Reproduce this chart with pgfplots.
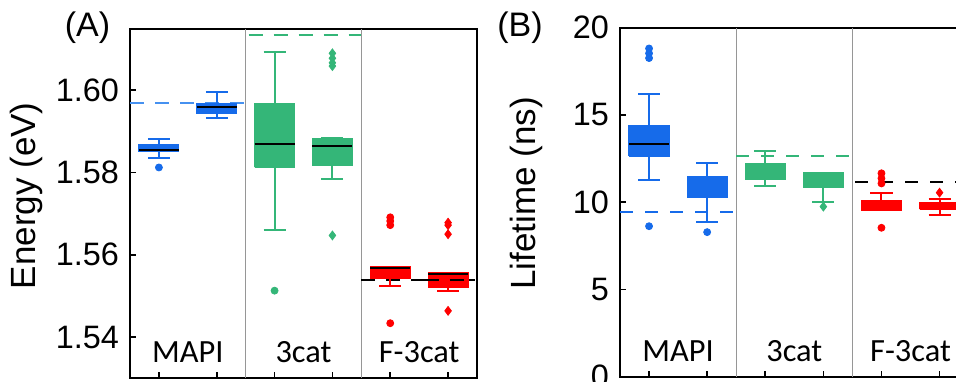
\documentclass[border=0pt]{standalone}
\usepackage{pgfplots}
\pgfplotsset{compat=1.18}
\usepackage{fontspec}
\setmainfont{Liberation Sans}
\newfontfamily\calfont{Carlito}
\definecolor{bblue}{RGB}{22,107,234}
\definecolor{lblue}{RGB}{70,145,240}
\definecolor{bgreen}{RGB}{52,182,120}
\definecolor{bred}{RGB}{255,0,0}
\definecolor{sepgray}{RGB}{150,150,150}
\tikzset{catlabel/.style={font=\calfont\fontsize{16.2}{18}\selectfont, anchor=base}}
% box: #1 pos, #2 lower whisker, #3 lower quartile, #4 median, #5 upper quartile, #6 upper whisker, #7 colour, #8 median colour
\newcommand\bx[8]{%
  \addplot[#7, line width=1pt, unbounded coords=jump, forget plot]
    table[row sep=\\, x expr=\thisrowno{0}+#1, y index=1]
    {x y\\ -0.19 #6\\ 0.19 #6\\ 0 nan\\ 0 #6\\ 0 #2\\ 0 nan\\ -0.19 #2\\ 0.19 #2\\};
  \addplot[fill=#7, draw=#7, line width=0.6pt, forget plot]
    table[row sep=\\, x expr=\thisrowno{0}+#1, y index=1]
    {x y\\ -0.345 #3\\ 0.345 #3\\ 0.345 #5\\ -0.345 #5\\ -0.345 #3\\};
  \addplot[#8, line width=1pt, forget plot]
    table[row sep=\\, x expr=\thisrowno{0}+#1, y index=1]
    {x y\\ -0.345 #4\\ 0.345 #4\\};
}
\pgfplotsset{
  outl/.style={only marks, mark=*, mark size=1.75pt, color=#1, mark options={fill=#1, draw=#1, solid}},
  outd/.style={only marks, mark=diamond*, mark size=2.2pt, color=#1, mark options={fill=#1, draw=#1, solid}},
  myaxis/.style={
    scale only axis, anchor=south west,
    xmin=-0.5, xmax=5.5, xtick={0,...,5}, xticklabels={},
    tick pos=left, tick align=inside, major tick length=3pt,
    tick style={black, line width=0.8pt},
    axis line style={line width=1pt, black},
    /pgf/number format/assume math mode=true,
    ticklabel style={font=\fontsize{16.2}{18}\selectfont},
    yticklabel style={xshift=-2pt},
    clip=false,
  },
}
\begin{document}
\begin{tikzpicture}
% ---------------- Panel A ----------------
\begin{axis}[myaxis, at={(65pt,1.5pt)}, width=173.5pt, height=174.5pt,
  ymin=1.5301, ymax=1.6148, ytick={1.54,1.56,1.58,1.60},
  yticklabel style={/pgf/number format/.cd, fixed, fixed zerofill, precision=2},
  ylabel={Energy (eV)},
  ylabel style={font=\fontsize{17.5}{20}\selectfont, at={(axis description cs:-0.2507,0.522)}, anchor=south, inner sep=0pt},
]
\addplot[sepgray, line width=0.5pt] coordinates {(1.5,1.5301) (1.5,1.6148)};
\addplot[sepgray, line width=0.5pt] coordinates {(3.5,1.5301) (3.5,1.6148)};
\addplot[lblue, line width=0.7pt, dash pattern=on 7pt off 5.5pt] coordinates {(-0.5,1.5968) (1.5,1.5968)};
\addplot[bgreen, line width=1pt, dash pattern=on 7pt off 5.5pt] coordinates {(1.55,1.6133) (3.5,1.6133)};
% MAPI
\bx{0}{1.5834}{1.5850}{1.5855}{1.5867}{1.5880}{bblue}{black}
\addplot[outl=bblue] coordinates {(0,1.5812)};
\bx{1}{1.5931}{1.5942}{1.5959}{1.5966}{1.5994}{bblue}{black}
% 3cat
\bx{2}{1.5660}{1.5812}{1.5868}{1.5966}{1.6091}{bgreen}{black}
\addplot[outl=bgreen] coordinates {(2,1.5513)};
\bx{3}{1.5783}{1.5818}{1.5863}{1.5883}{1.5883}{bgreen}{black}
\addplot[outd=bgreen] coordinates {(3,1.6089) (3,1.6077) (3,1.6066) (3,1.6058) (3,1.5647)};
% F-3cat
\addplot[black, line width=1pt, dash pattern=on 7pt off 5.5pt] coordinates {(3.5,1.5539) (5.5,1.5539)};
\bx{4}{1.5525}{1.5543}{1.5567}{1.5571}{1.5571}{bred}{black}
\addplot[outl=bred] coordinates {(4,1.5691) (4,1.5682) (4,1.5672) (4,1.5434)};
\bx{5}{1.5513}{1.5521}{1.5554}{1.5557}{1.5557}{bred}{black}
\addplot[outd=bred] coordinates {(5,1.5678) (5,1.5672) (5,1.5650) (5,1.5464)};
\addplot[black, line width=1pt, dash pattern=on 7pt off 5.5pt, dash phase=0pt] coordinates {(4.6,1.5539) (5.45,1.5539)};
\node[catlabel] at (axis cs:0.5,1.5338) {MAPI};
\node[catlabel] at (axis cs:2.5,1.5338) {3cat};
\node[catlabel] at (axis cs:4.5,1.5338) {F-3cat};
\node[font=\fontsize{17}{20}\selectfont] at (rel axis cs:-0.1225,1.003) {(A)};
\end{axis}
% ---------------- Panel B ----------------
\begin{axis}[myaxis, at={(310pt,2.15pt)}, width=174.3pt, height=174.6pt,
  ymin=0, ymax=20, ytick={0,5,10,15,20},
  ylabel={Lifetime (ns)},
  ylabel style={font=\fontsize{17.5}{20}\selectfont, at={(axis description cs:-0.221,0.525)}, anchor=south, inner sep=0pt},
]
\addplot[sepgray, line width=0.5pt] coordinates {(1.5,0) (1.5,20)};
\addplot[sepgray, line width=0.5pt] coordinates {(3.5,0) (3.5,20)};
% MAPI
\bx{0}{11.26}{12.64}{13.32}{14.37}{16.21}{bblue}{black}
\addplot[outl=bblue] coordinates {(0,18.80) (0,18.52) (0,18.25) (0,8.62)};
\bx{1}{8.85}{10.25}{10.80}{11.44}{12.26}{bblue}{bblue}
\addplot[outl=bblue] coordinates {(1,8.28)};
\addplot[bblue, line width=1pt, dash pattern=on 6.5pt off 6pt] coordinates {(-0.5,9.43) (1.5,9.43)};
% 3cat
\bx{2}{10.92}{11.30}{11.70}{12.21}{12.93}{bgreen}{bgreen}
\bx{3}{10.00}{10.83}{11.30}{11.69}{11.69}{bgreen}{bgreen}
\addplot[outd=bgreen] coordinates {(3,9.74)};
\addplot[bgreen, line width=1pt, dash pattern=on 6.5pt off 6pt] coordinates {(1.5,12.64) (3.5,12.64)};
% F-3cat
\bx{4}{9.54}{9.54}{9.85}{10.10}{10.54}{bred}{bred}
\addplot[outl=bred] coordinates {(4,11.65) (4,11.36) (4,11.07) (4,8.53)};
\bx{5}{9.29}{9.58}{9.81}{10.00}{10.20}{bred}{bred}
\addplot[outd=bred] coordinates {(5,10.54)};
\addplot[black, line width=1pt, dash pattern=on 6.5pt off 6pt] coordinates {(3.55,11.15) (5.5,11.15)};
\node[catlabel] at (axis cs:0.5,0.86) {MAPI};
\node[catlabel] at (axis cs:2.5,0.86) {3cat};
\node[catlabel] at (axis cs:4.5,0.86) {F-3cat};
\node[font=\fontsize{17}{20}\selectfont] at (rel axis cs:-0.287,0.999) {(B)};
\end{axis}
\pgfresetboundingbox
\useasboundingbox (0,0) rectangle (478pt,190.5pt);
\end{tikzpicture}
\end{document}
